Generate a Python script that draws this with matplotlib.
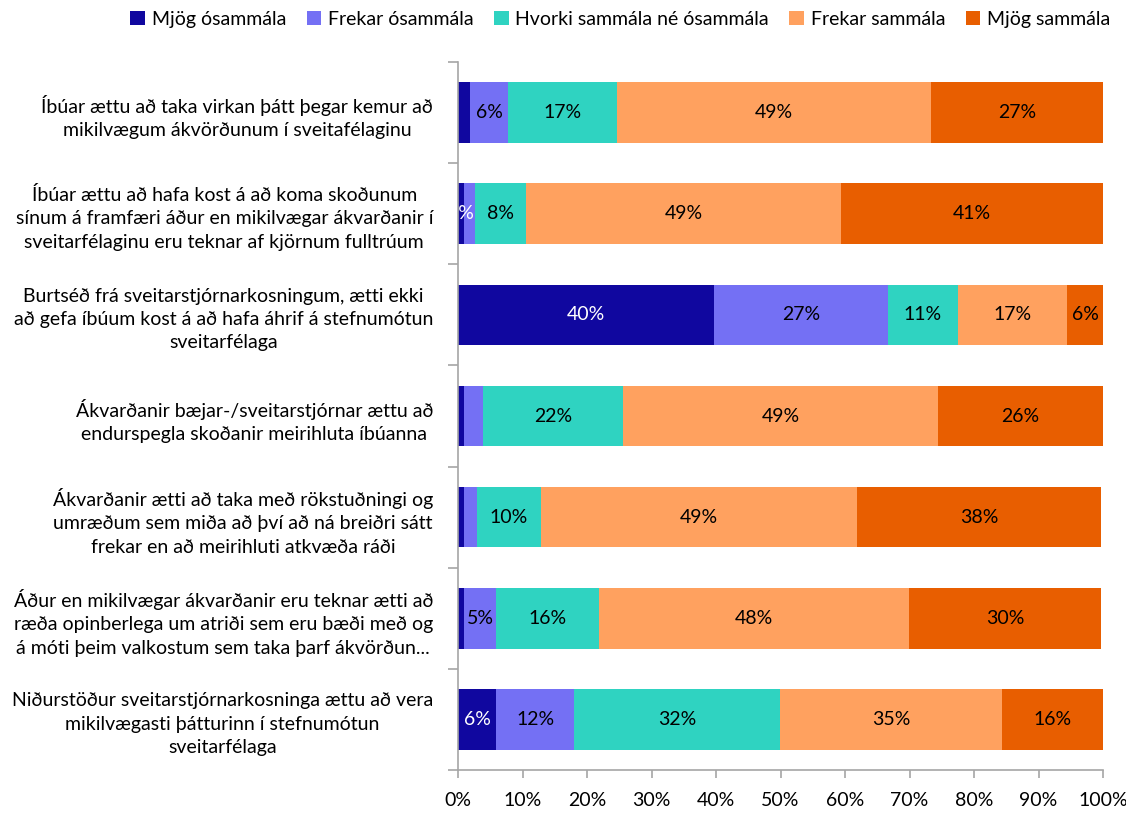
import matplotlib
matplotlib.use("Agg")
import matplotlib.pyplot as plt
from matplotlib.patches import Patch
import numpy as np

plt.rcParams["font.family"] = ["Lato", "DejaVu Sans"]

categories = [
    "Íbúar ættu að taka virkan þátt þegar kemur að\nmikilvægum ákvörðunum í sveitafélaginu",
    "Íbúar ættu að hafa kost á að koma skoðunum\nsínum á framfæri áður en mikilvægar ákvarðanir í\nsveitarfélaginu eru teknar af kjörnum fulltrúum",
    "Burtséð frá sveitarstjórnarkosningum, ætti ekki\nað gefa íbúum kost á að hafa áhrif á stefnumótun\nsveitarfélaga",
    "Ákvarðanir bæjar-/sveitarstjórnar ættu að\nendurspegla skoðanir meirihluta íbúanna",
    "Ákvarðanir ætti að taka með rökstuðningi og\numræðum sem miða að því að ná breiðri sátt\nfrekar en að meirihluti atkvæða ráði",
    "Áður en mikilvægar ákvarðanir eru teknar ætti að\nræða opinberlega um atriði sem eru bæði með og\ná móti þeim valkostum sem taka þarf ákvörðun...",
    "Niðurstöður sveitarstjórnarkosninga ættu að vera\nmikilvægasti þátturinn í stefnumótun\nsveitarfélaga",
]

series = ["Mjög ósammála", "Frekar ósammála", "Hvorki sammála né ósammála",
          "Frekar sammála", "Mjög sammála"]

mjog_osammala = [1.8, 0.9, 39.7, 0.9, 0.9, 0.9, 5.9]
frekar_osammala = [6.0, 1.8, 26.9, 2.9, 2.0, 5.0, 12.1]
hvorki = [16.8, 7.8, 10.9, 21.8, 10.0, 16.0, 31.9]
frekar_sammala = [48.8, 48.9, 16.9, 48.8, 49.0, 48.0, 34.5]
mjog_sammala = [26.6, 40.6, 5.6, 25.6, 37.8, 29.8, 15.6]

colors = ["#10079F", "#7470F4", "#2FD3C1", "#FFA15F", "#E85E00"]
text_colors = ["white", "black", "black", "black", "black"]

# labels below 5% are hidden, except this one which Excel left in place
extra_labels = {(1, 0)}

FS = 14

data = np.array([mjog_osammala, frekar_osammala, hvorki, frekar_sammala, mjog_sammala]) / 100.0
n = len(categories)
y = np.arange(n)

fig = plt.figure(figsize=(11.26, 8.14), dpi=100)
ax = fig.add_axes([458 / 1126, 44 / 814, 645 / 1126, 708 / 814])

left = np.zeros(n)
for s, vals in enumerate(data):
    ax.barh(y, vals, left=left, height=0.6, color=colors[s], label=series[s])
    for i, v in enumerate(vals):
        pct = int(v * 100 + 0.5)
        if pct >= 5 or (i, s) in extra_labels:
            ax.text(left[i] + v / 2, y[i], f"{pct}%", ha="center", va="center",
                    color=text_colors[s], fontsize=FS, clip_on=True)
    left += vals

ax.set_xlim(0, 1)
ax.set_ylim(n - 0.5, -0.5)

ax.set_xticks(np.linspace(0, 1, 11))
ax.set_xticklabels([f"{int(t)}%" for t in np.linspace(0, 100, 11)], fontsize=FS)

ax.set_yticks(np.arange(-0.5, n, 1.0))
ax.set_yticklabels([])
ax.set_yticks(y, minor=True)
ax.set_yticklabels(categories, minor=True, fontsize=FS, multialignment="center",
                   linespacing=1.45)
ax.tick_params(axis="y", which="minor", length=0, pad=18)
ax.tick_params(axis="y", which="major", length=7, color="#A6A6A6", width=1.2)
ax.tick_params(axis="x", length=6, color="#A6A6A6", width=1.2, pad=10)

for side in ["top", "right"]:
    ax.spines[side].set_visible(False)
for side in ["left", "bottom"]:
    ax.spines[side].set_color("#A6A6A6")
    ax.spines[side].set_linewidth(1.2)

handles = [Patch(facecolor=c, label=l) for c, l in zip(colors, series)]
fig.legend(handles=handles, loc="upper center", bbox_to_anchor=(0.551, 1.008), ncol=5,
           frameon=False, fontsize=FS, handlelength=0.75, handleheight=0.75,
           handletextpad=0.35, columnspacing=1.05)

fig.savefig("out.png", dpi=100)
